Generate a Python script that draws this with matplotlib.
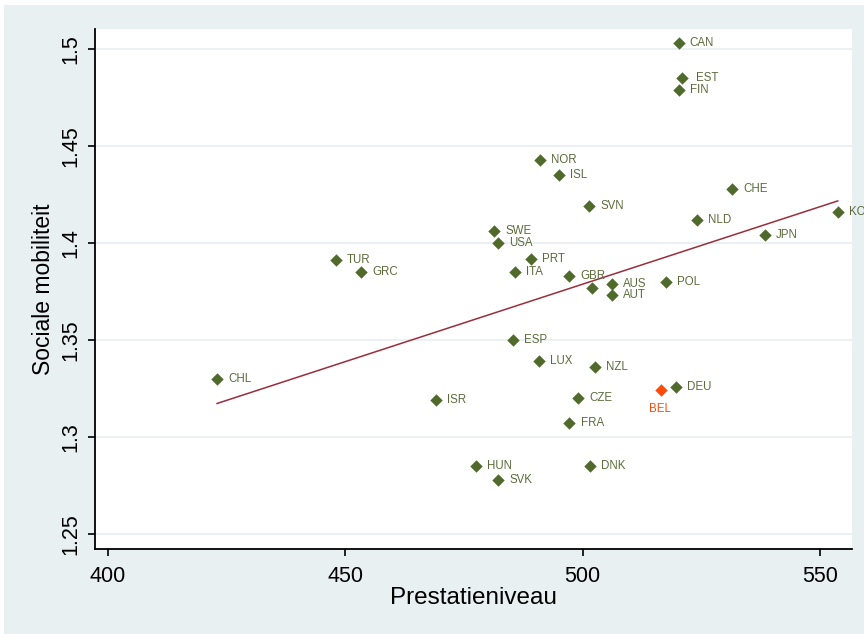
import numpy as np
import matplotlib
matplotlib.use('Agg')
import matplotlib.pyplot as plt
from matplotlib.patches import Rectangle

plt.rcParams['font.family'] = ['Liberation Sans', 'DejaVu Sans']

# PISA-prestatie en sociale mobiliteit per land
landen = ['CAN', 'EST', 'FIN', 'NOR', 'ISL', 'CHE', 'SVN', 'NLD', 'KOR',
          'SWE', 'USA', 'JPN', 'TUR', 'GRC', 'PRT', 'ITA', 'GBR', '',
          'AUS', 'AUT', 'POL', 'ESP', 'CHL', 'LUX', 'NZL', 'DEU', 'ISR',
          'CZE', 'FRA', 'HUN', 'DNK', 'SVK']
prestatie = [520.2, 521.0, 520.2, 491.0, 494.9, 531.4, 501.4, 524.0, 553.7,
             481.4, 482.2, 538.3, 448.0, 453.3, 489.1, 485.8, 497.2, 501.9,
             506.1, 506.1, 517.6, 485.3, 423.0, 490.7, 502.5, 519.6, 469.1,
             499.1, 497.2, 477.5, 501.6, 482.2]
mobiliteit = [1.503, 1.485, 1.479, 1.443, 1.435, 1.428, 1.419, 1.412, 1.416,
              1.406, 1.400, 1.404, 1.391, 1.385, 1.392, 1.385, 1.383, 1.377,
              1.379, 1.373, 1.380, 1.350, 1.330, 1.339, 1.336, 1.326, 1.319,
              1.320, 1.307, 1.285, 1.285, 1.278]

# Belgie apart gemarkeerd
bel_prestatie = 516.5
bel_mobiliteit = 1.324

# lineaire fit (eindpunten van de lijn)
fit_x = [423.0, 553.7]
fit_y = [1.3173, 1.4217]

groen = '#4f6a2b'
tekst = '#5c6b3c'
oranje = '#ff4a0a'

fig = plt.figure(figsize=(8.64, 6.34), dpi=100, facecolor='white')
fig.patches.append(Rectangle((4 / 864, 0), 1, 1 - 5 / 634, transform=fig.transFigure,
                             facecolor='#e8f0f2', edgecolor='none', zorder=-10))
ax = fig.add_axes([95 / 864, 85 / 634, 757 / 864, 520 / 634])
ax.set_facecolor('white')

ax.set_xlim(397.3, 556.7)
ax.set_ylim(1.2423, 1.5103)

for yt in [1.25, 1.3, 1.35, 1.4, 1.45, 1.5]:
    ax.axhline(yt, color='#e6eef2', lw=1.2, zorder=1)

ax.plot(fit_x, fit_y, color='#9b2d3c', lw=1.1, zorder=2)

ax.scatter(prestatie, mobiliteit, marker='D', s=40, color=groen, zorder=3, linewidths=0)
for naam, x, y in zip(landen, prestatie, mobiliteit):
    if not naam:
        continue
    dx = 9.5 if naam == 'EST' else 8
    ax.annotate(naam, (x, y), xytext=(dx, 0), textcoords='offset points',
                fontsize=8.3, color=tekst, va='center', ha='left', zorder=4,
                annotation_clip=False)

ax.scatter([bel_prestatie], [bel_mobiliteit], marker='D', s=40, color=oranje,
           zorder=3, linewidths=0)
ax.annotate('BEL', (bel_prestatie, bel_mobiliteit), xytext=(-1, -13),
            textcoords='offset points', fontsize=8.3, color=oranje,
            ha='center', va='center', zorder=4)

ax.set_xticks([400, 450, 500, 550])
ax.set_yticks([1.25, 1.3, 1.35, 1.4, 1.45, 1.5])
ax.set_yticklabels(['1.25', '1.3', '1.35', '1.4', '1.45', '1.5'],
                   rotation=90, va='center')
ax.tick_params(axis='both', direction='out', length=5, width=1.2,
               labelsize=15.5, colors='black')
ax.tick_params(axis='x', pad=7)
ax.tick_params(axis='y', pad=5)

for s in ['top', 'right']:
    ax.spines[s].set_visible(False)
for s in ['left', 'bottom']:
    ax.spines[s].set_linewidth(1.3)

ax.set_xlabel('Prestatieniveau', fontsize=17.5, labelpad=0)
ax.set_ylabel('Sociale mobiliteit', fontsize=16.5, labelpad=4)

fig.savefig('out.png', dpi=100, facecolor=fig.get_facecolor())
